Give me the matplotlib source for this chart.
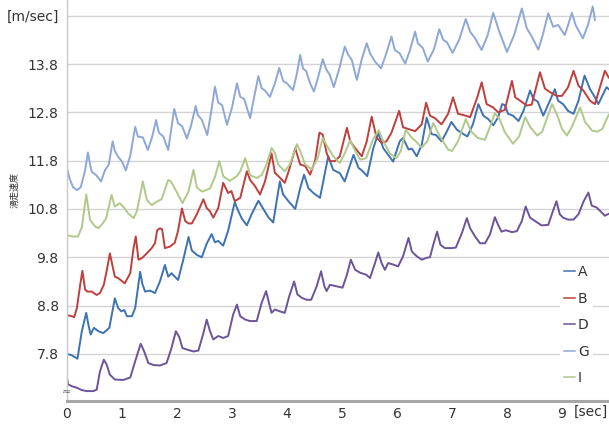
import matplotlib
matplotlib.use("Agg")
import matplotlib.pyplot as plt

plt.rcParams['font.family'] = ['DejaVu Sans', 'Noto Sans CJK JP']

# Skating speed per runner [m/sec] against time [sec]
t_A = [0.00, 0.09, 0.19, 0.27, 0.35, 0.39, 0.43, 0.49, 0.57, 0.66, 0.77, 0.87, 0.93, 0.99, 1.04, 1.09, 1.18, 1.24,
       1.33, 1.37, 1.42, 1.51, 1.60, 1.69, 1.78, 1.84, 1.90, 1.96, 2.02, 2.11, 2.21, 2.27, 2.36, 2.45, 2.54, 2.63,
       2.69, 2.75, 2.84, 2.93, 3.05, 3.11, 3.18, 3.27, 3.36, 3.48, 3.57, 3.66, 3.75, 3.87, 3.93, 4.02, 4.15, 4.24,
       4.31, 4.39, 4.48, 4.60, 4.75, 4.84, 4.96, 5.05, 5.15, 5.21, 5.30, 5.36, 5.46, 5.57, 5.66, 5.75, 5.84, 5.93,
       6.05, 6.11, 6.21, 6.27, 6.36, 6.45, 6.54, 6.63, 6.71, 6.81, 6.90, 6.99, 7.09, 7.18, 7.28, 7.38, 7.48, 7.57,
       7.66, 7.75, 7.84, 7.91, 7.96, 8.02, 8.11, 8.21, 8.30, 8.42, 8.48, 8.56, 8.66, 8.78, 8.87, 8.93, 9.02, 9.11,
       9.21, 9.30, 9.41, 9.51, 9.60, 9.66, 9.75, 9.81, 9.85]
v_A = [7.80, 7.77, 7.70, 8.27, 8.65, 8.40, 8.20, 8.34, 8.27, 8.23, 8.34, 8.95, 8.75, 8.68, 8.71, 8.58, 8.58, 8.75,
       9.50, 9.25, 9.09, 9.11, 9.06, 9.30, 9.64, 9.40, 9.47, 9.40, 9.33, 9.73, 10.22, 9.94, 9.85, 9.80, 10.08, 10.28,
       10.11, 10.14, 10.04, 10.35, 10.94, 10.77, 10.60, 10.46, 10.70, 10.97, 10.80, 10.63, 10.52, 11.37, 11.10, 10.97,
       10.80, 11.23, 11.51, 11.23, 11.13, 11.03, 11.89, 11.61, 11.54, 11.37, 11.72, 11.92, 11.65, 11.60, 11.48, 12.06,
       12.37, 12.06, 11.92, 11.78, 12.20, 12.27, 12.03, 12.05, 11.89, 12.13, 12.69, 12.35, 12.33, 12.20, 12.39, 12.60,
       12.44, 12.37, 12.30, 12.55, 12.97, 12.73, 12.66, 12.53, 12.70, 12.97, 12.95, 12.77, 12.73, 12.62, 12.83, 13.25,
       13.08, 13.02, 12.73, 13.04, 13.28, 13.04, 12.97, 12.83, 12.77, 13.04, 13.56, 13.28, 13.11, 12.97, 13.18, 13.32,
       13.28]

t_B = [0.00, 0.09, 0.13, 0.18, 0.24, 0.28, 0.33, 0.37, 0.45, 0.54, 0.60, 0.67, 0.73, 0.78, 0.83, 0.87, 0.93, 1.05,
       1.15, 1.21, 1.25, 1.30, 1.36, 1.45, 1.54, 1.60, 1.64, 1.69, 1.73, 1.78, 1.87, 1.96, 2.02, 2.09, 2.15, 2.21,
       2.27, 2.36, 2.48, 2.54, 2.60, 2.66, 2.75, 2.84, 2.93, 2.99, 3.05, 3.15, 3.27, 3.33, 3.42, 3.51, 3.60, 3.72,
       3.78, 3.87, 3.96, 4.05, 4.15, 4.24, 4.33, 4.42, 4.51, 4.59, 4.65, 4.72, 4.78, 4.87, 4.96, 5.09, 5.15, 5.24,
       5.36, 5.45, 5.54, 5.63, 5.72, 5.81, 5.90, 6.04, 6.11, 6.22, 6.33, 6.45, 6.53, 6.60, 6.69, 6.81, 6.93, 7.02,
       7.11, 7.22, 7.33, 7.46, 7.54, 7.63, 7.75, 7.84, 7.96, 8.09, 8.15, 8.24, 8.36, 8.45, 8.60, 8.69, 8.78, 8.90,
       9.00, 9.11, 9.21, 9.30, 9.39, 9.51, 9.60, 9.69, 9.78, 9.85]
v_B = [8.60, 8.58, 8.56, 8.75, 9.23, 9.52, 9.13, 9.09, 9.09, 9.02, 9.06, 9.23, 9.57, 9.88, 9.61, 9.40, 9.37, 9.26,
       9.47, 9.99, 10.23, 9.75, 9.78, 9.88, 9.99, 10.09, 10.36, 10.40, 10.38, 9.99, 10.02, 10.10, 10.35, 10.81, 10.55,
       10.50, 10.50, 10.69, 11.00, 10.82, 10.75, 10.62, 10.82, 11.34, 11.13, 11.17, 10.96, 11.03, 11.58, 11.40, 11.27,
       11.10, 11.37, 11.95, 11.55, 11.45, 11.34, 11.65, 12.06, 11.72, 11.69, 11.51, 11.79, 12.38, 12.34, 11.96, 11.79,
       11.79, 11.89, 12.48, 12.20, 12.06, 11.89, 12.20, 12.71, 12.27, 12.17, 12.20, 12.38, 12.83, 12.49, 12.45, 12.41,
       12.55, 13.00, 12.73, 12.68, 12.55, 12.77, 13.11, 12.77, 12.74, 12.70, 13.11, 13.42, 12.97, 12.90, 12.80, 12.85,
       13.45, 13.11, 13.04, 12.94, 12.96, 13.63, 13.29, 13.22, 13.14, 13.14, 13.32, 13.66, 13.35, 13.25, 13.04, 12.97,
       13.32, 13.66, 13.52]

t_D = [0.00, 0.02, 0.09, 0.18, 0.27, 0.36, 0.48, 0.54, 0.60, 0.67, 0.72, 0.78, 0.87, 1.02, 1.15, 1.24, 1.34, 1.40,
       1.48, 1.57, 1.69, 1.81, 1.90, 1.98, 2.04, 2.10, 2.21, 2.30, 2.39, 2.48, 2.54, 2.60, 2.66, 2.75, 2.84, 2.93,
       3.02, 3.09, 3.15, 3.24, 3.33, 3.45, 3.54, 3.62, 3.68, 3.72, 3.78, 3.87, 3.96, 4.04, 4.13, 4.19, 4.27, 4.36,
       4.44, 4.54, 4.62, 4.68, 4.72, 4.78, 4.90, 5.01, 5.09, 5.16, 5.24, 5.33, 5.44, 5.51, 5.60, 5.66, 5.72, 5.78,
       5.84, 5.93, 6.02, 6.11, 6.21, 6.27, 6.36, 6.45, 6.54, 6.60, 6.66, 6.73, 6.79, 6.87, 6.99, 7.07, 7.18, 7.27,
       7.33, 7.42, 7.51, 7.60, 7.69, 7.78, 7.84, 7.90, 7.98, 8.09, 8.18, 8.27, 8.34, 8.42, 8.51, 8.63, 8.75, 8.84,
       8.90, 8.96, 9.02, 9.11, 9.21, 9.30, 9.39, 9.48, 9.54, 9.63, 9.72, 9.78, 9.85]
v_D = [7.31, 7.17, 7.13, 7.10, 7.05, 7.03, 7.03, 7.06, 7.44, 7.68, 7.58, 7.37, 7.27, 7.26, 7.31, 7.65, 8.01, 7.86,
       7.61, 7.57, 7.56, 7.61, 7.92, 8.27, 8.15, 7.92, 7.88, 7.85, 7.87, 8.23, 8.51, 8.27, 8.10, 8.17, 8.13, 8.17,
       8.61, 8.82, 8.58, 8.51, 8.48, 8.48, 8.86, 9.10, 8.82, 8.65, 8.72, 8.68, 8.65, 8.99, 9.30, 9.03, 8.96, 8.92,
       8.92, 9.20, 9.51, 9.20, 9.10, 9.23, 9.20, 9.17, 9.44, 9.75, 9.54, 9.48, 9.44, 9.37, 9.68, 9.90, 9.68, 9.54,
       9.68, 9.65, 9.61, 9.82, 10.20, 9.92, 9.82, 9.75, 9.79, 9.80, 10.06, 10.33, 10.06, 9.99, 9.99, 10.00, 10.30, 10.61,
       10.40, 10.23, 10.09, 10.09, 10.27, 10.63, 10.47, 10.33, 10.36, 10.32, 10.34, 10.55, 10.85, 10.62, 10.55, 10.46,
       10.47, 10.77, 10.96, 10.69, 10.62, 10.58, 10.58, 10.69, 10.95, 11.14, 10.87, 10.83, 10.73, 10.66, 10.70]

t_G = [0.00, 0.05, 0.11, 0.18, 0.25, 0.33, 0.38, 0.42, 0.45, 0.53, 0.62, 0.69, 0.76, 0.83, 0.87, 0.93, 1.00, 1.07,
       1.15, 1.24, 1.29, 1.38, 1.47, 1.55, 1.62, 1.67, 1.75, 1.84, 1.95, 2.02, 2.09, 2.18, 2.25, 2.34, 2.38, 2.45,
       2.55, 2.62, 2.69, 2.75, 2.82, 2.91, 3.00, 3.09, 3.15, 3.22, 3.33, 3.40, 3.48, 3.54, 3.60, 3.69, 3.78, 3.86,
       3.93, 4.00, 4.11, 4.18, 4.24, 4.29, 4.35, 4.42, 4.49, 4.56, 4.65, 4.71, 4.78, 4.85, 4.95, 5.05, 5.11, 5.18,
       5.27, 5.36, 5.45, 5.51, 5.60, 5.71, 5.80, 5.90, 5.96, 6.05, 6.15, 6.24, 6.33, 6.38, 6.47, 6.56, 6.67, 6.77,
       6.84, 6.91, 7.01, 7.13, 7.25, 7.33, 7.42, 7.54, 7.65, 7.75, 7.82, 7.87, 8.00, 8.13, 8.27, 8.36, 8.45, 8.57,
       8.65, 8.75, 8.84, 8.93, 9.05, 9.11, 9.18, 9.25, 9.38, 9.47, 9.56, 9.60]
v_G = [11.64, 11.42, 11.25, 11.19, 11.25, 11.60, 11.97, 11.72, 11.57, 11.50, 11.37, 11.60, 11.72, 12.20, 12.00, 11.88,
       11.78, 11.60, 11.90, 12.50, 12.30, 12.28, 12.02, 12.30, 12.64, 12.38, 12.30, 12.02, 12.87, 12.57, 12.52, 12.26,
       12.50, 12.93, 12.74, 12.65, 12.33, 12.80, 13.33, 13.00, 12.95, 12.54, 12.90, 13.40, 13.12, 13.08, 12.68, 13.10,
       13.55, 13.30, 13.25, 13.12, 13.40, 13.72, 13.45, 13.40, 13.26, 13.60, 13.99, 13.71, 13.65, 13.40, 13.23, 13.50,
       13.90, 13.70, 13.57, 13.32, 13.70, 14.16, 14.00, 13.88, 13.47, 13.90, 14.23, 14.02, 13.85, 13.71, 14.00, 14.37,
       14.09, 14.02, 13.81, 14.10, 14.47, 14.23, 14.13, 13.85, 14.10, 14.52, 14.30, 14.25, 14.03, 14.30, 14.73, 14.47,
       14.33, 14.09, 14.40, 14.86, 14.61, 14.44, 14.05, 14.40, 14.95, 14.54, 14.37, 14.10, 14.40, 14.85, 14.57, 14.61,
       14.40, 14.60, 14.86, 14.60, 14.33, 14.60, 14.99, 14.71]

t_I = [0.00, 0.09, 0.20, 0.27, 0.35, 0.42, 0.51, 0.57, 0.65, 0.71, 0.81, 0.87, 0.96, 1.05, 1.11, 1.21, 1.27, 1.38,
       1.45, 1.54, 1.63, 1.72, 1.84, 1.89, 1.99, 2.10, 2.21, 2.30, 2.36, 2.45, 2.60, 2.69, 2.77, 2.84, 2.96, 3.09,
       3.15, 3.24, 3.33, 3.45, 3.54, 3.62, 3.72, 3.78, 3.84, 3.96, 4.05, 4.18, 4.24, 4.33, 4.45, 4.56, 4.65, 4.73,
       4.84, 4.96, 5.05, 5.15, 5.22, 5.33, 5.44, 5.56, 5.67, 5.73, 5.87, 5.99, 6.07, 6.16, 6.27, 6.36, 6.45, 6.55,
       6.66, 6.78, 6.93, 7.00, 7.11, 7.25, 7.35, 7.47, 7.60, 7.69, 7.78, 7.87, 7.96, 8.11, 8.22, 8.33, 8.42, 8.55,
       8.64, 8.82, 8.91, 9.00, 9.09, 9.18, 9.33, 9.42, 9.55, 9.64, 9.73, 9.80, 9.85]
v_I = [10.26, 10.23, 10.23, 10.42, 11.10, 10.57, 10.44, 10.40, 10.50, 10.60, 11.09, 10.85, 10.92, 10.81, 10.71, 10.61,
       10.75, 11.37, 10.99, 10.88, 10.95, 11.00, 11.40, 11.37, 11.16, 10.92, 11.16, 11.61, 11.25, 11.16, 11.22, 11.46,
       11.79, 11.48, 11.38, 11.48, 11.58, 11.85, 11.50, 11.44, 11.50, 11.70, 12.06, 11.96, 11.72, 11.58, 11.72, 12.14,
       12.00, 11.72, 11.62, 11.86, 12.27, 12.10, 11.89, 11.75, 11.95, 12.22, 12.05, 11.82, 11.85, 12.23, 12.43, 12.25,
       11.95, 11.85, 12.00, 12.44, 12.27, 12.18, 12.07, 12.20, 12.58, 12.30, 12.03, 12.00, 12.20, 12.66, 12.40, 12.27,
       12.23, 12.50, 12.78, 12.65, 12.39, 12.15, 12.30, 12.70, 12.50, 12.32, 12.40, 12.97, 12.75, 12.46, 12.32, 12.50,
       12.90, 12.60, 12.42, 12.40, 12.45, 12.63, 12.75]

names = ['A', 'B', 'D', 'G', 'I']
colors = ['#3d72b3', '#bf3f3c', '#6b5499', '#8ea8d6', '#b0c98a']
y_ticks = [7.8, 8.8, 9.8, 10.8, 11.8, 12.8, 13.8, 14.8]
y_labels = ['7.8', '8.8', '9.8', '10.8', '11.8', '12.8', '13.8', '[m/sec]']
x_ticks = [0, 1, 2, 3, 4, 5, 6, 7, 8, 9]

fig = plt.figure(figsize=(6.09, 4.24), dpi=100)
ax = fig.add_axes([0.11, 0.054, 0.89, 0.946])

series = [(t_A, v_A), (t_B, v_B), (t_D, v_D), (t_G, v_G), (t_I, v_I)]
for (t, v), name, c in zip(series, names, colors):
    ax.plot(t, v, color=c, lw=1.4, label=name, solid_joinstyle='round')

ax.set_xlim(0, 9.855)
ax.set_ylim(6.823, 15.125)
ax.set_yticks(y_ticks)
ax.set_yticklabels(y_labels)
ax.set_xticks(x_ticks)
ax.tick_params(length=0, labelsize=10, colors='#333333')
ax.tick_params(axis='y', pad=6)
ax.tick_params(axis='x', pad=4)
ax.grid(axis='y', color='#d4d4d4', lw=1)
ax.set_axisbelow(True)

for s in ['top', 'right']:
    ax.spines[s].set_visible(False)
ax.spines['left'].set_color('#c8c8c8')
ax.spines['left'].set_linewidth(1)
ax.spines['bottom'].set_color('#a6a6a6')
ax.spines['bottom'].set_linewidth(2.2)

# axis break mark near the bottom of the y axis
ax.text(0, 7.01, '≈', ha='center', va='center', fontsize=8, color='#666666')

fig.text(15 / 609, 1 - 190 / 424, '滑走速度', rotation=90, ha='center', va='center',
         fontsize=6.5, color='#333333', family=['Noto Sans CJK JP'])
fig.text(591 / 609, 1 - 412 / 424, '[sec]', ha='center', va='center', fontsize=10, color='#333333')

leg = ax.legend(loc='upper left', bbox_to_anchor=(560 / 609, 1 - 261 / 424),
                bbox_transform=fig.transFigure, borderaxespad=0, frameon=True, fancybox=False,
                edgecolor='none', facecolor='white', framealpha=1, fontsize=10,
                handlelength=0.8, handletextpad=0.2, labelspacing=0.9, borderpad=0.3)
for line in leg.get_lines():
    line.set_linewidth(1.1)
for txt in leg.get_texts():
    txt.set_color('#333333')

fig.savefig('out.png', dpi=100)
